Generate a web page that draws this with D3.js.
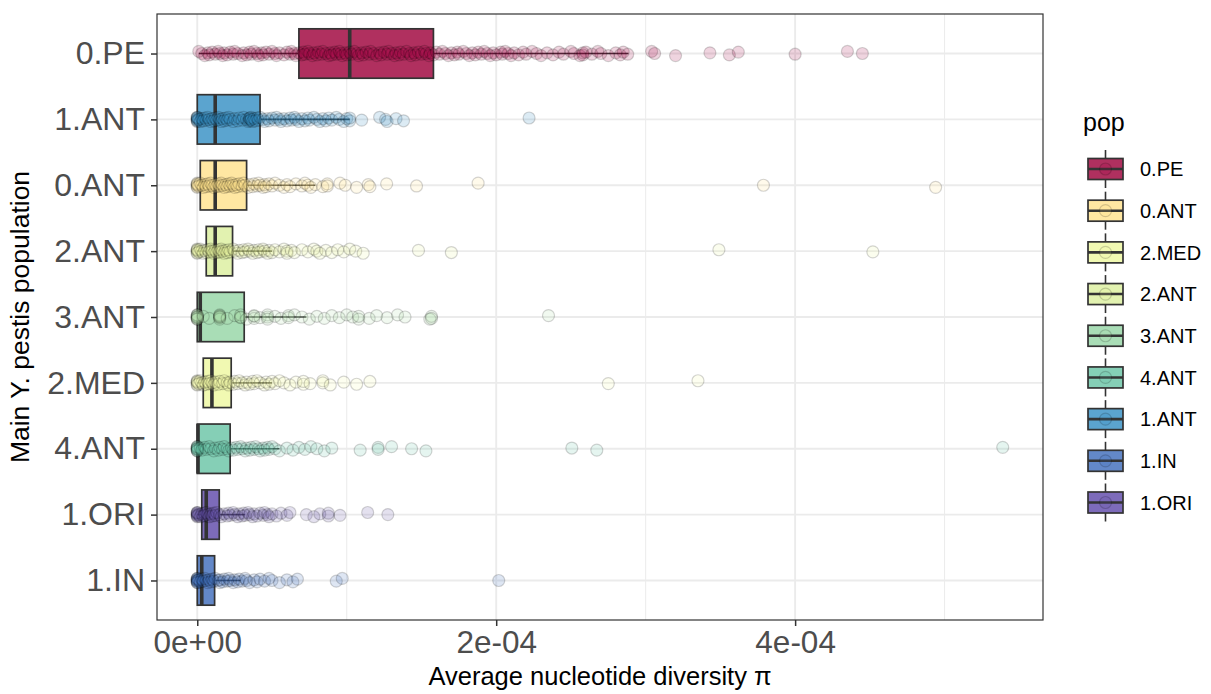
<!DOCTYPE html>
<html>
<head>
<meta charset="utf-8">
<script src="https://cdn.jsdelivr.net/npm/d3@7"></script>
<style>
  html, body { margin: 0; padding: 0; background: #fff; }
  svg { display: block; font-family: "Liberation Sans", Arial, Helvetica, sans-serif; }
</style>
</head>
<body>
<svg id="chart" width="1211" height="694"></svg>
<script>
// ---------------- DATA (values in units of 1e-4) ----------------
const unit = 1e-4;
const categories = ["0.PE", "1.ANT", "0.ANT", "2.ANT", "3.ANT", "2.MED", "4.ANT", "1.ORI", "1.IN"];
const legendOrder = ["0.PE", "0.ANT", "2.MED", "2.ANT", "3.ANT", "4.ANT", "1.ANT", "1.IN", "1.ORI"];

// box statistics, in the order of `categories`
const whiskerLow  = [0.01, 0.00, 0.00, 0.00, 0.00, 0.00, 0.00, 0.00, 0.00];
const q1          = [0.68, 0.00, 0.02, 0.06, 0.00, 0.04, 0.00, 0.03, 0.00];
const median      = [1.02, 0.12, 0.12, 0.12, 0.02, 0.098, 0.005, 0.06, 0.03];
const q3          = [1.58, 0.42, 0.33, 0.236, 0.314, 0.227, 0.22, 0.147, 0.116];
const whiskerHigh = [2.885, 1.02, 0.79, 0.50, 0.73, 0.50, 0.55, 0.32, 0.29];

// individual observations
const pts0PE = [0.01,0.03,0.05,0.07,0.08,0.1,0.12,0.14,0.15,0.17,0.18,0.2,0.22,0.24,0.25,0.27,0.3,0.31,0.33,0.35,0.36,0.38,0.4,0.41,0.43,0.44,0.46,0.48,0.5,0.52,0.53,0.55,0.58,0.6,0.62,0.63,0.65,0.66,0.68,0.7,0.71,0.72,0.74,0.75,0.77,0.78,0.8,0.81,0.83,0.84,0.86,0.88,0.89,0.9,0.92,0.93,0.95,0.96,0.97,0.99,1.0,1.02,1.03,1.05,1.07,1.08,1.1,1.11,1.13,1.15,1.16,1.18,1.2,1.22,1.23,1.25,1.27,1.28,1.3,1.32,1.33,1.35,1.36,1.38,1.4,1.42,1.43,1.45,1.46,1.48,1.5,1.52,1.53,1.55,1.56,1.58,1.6,1.62,1.64,1.66,1.68,1.7,1.72,1.74,1.75,1.78,1.8,1.82,1.84,1.86,1.88,1.9,1.92,1.94,1.96,1.98,2.0,2.03,2.04,2.06,2.08,2.1,2.12,2.15,2.18,2.2,2.24,2.27,2.3,2.34,2.38,2.42,2.45,2.5,2.52,2.56,2.58,2.58,2.6,2.64,2.68,2.7,2.75,2.8,2.83,2.85,2.88,3.04,3.06,3.2,3.43,3.56,3.62,4.0,4.35,4.45];
const pts1ANT = [0,0,0,0,0,0,0,0,0.01,0.02,0.03,0.04,0.05,0.06,0.07,0.08,0.09,0.1,0.11,0.12,0.13,0.14,0.15,0.16,0.17,0.18,0.19,0.2,0.21,0.22,0.24,0.25,0.27,0.28,0.3,0.31,0.33,0.34,0.35,0.35,0.35,0.36,0.36,0.36,0.37,0.38,0.39,0.4,0.41,0.42,0.44,0.45,0.47,0.48,0.5,0.52,0.53,0.55,0.56,0.58,0.6,0.62,0.63,0.65,0.66,0.68,0.7,0.72,0.74,0.75,0.78,0.8,0.82,0.84,0.86,0.88,0.9,0.93,0.95,0.98,1.0,1.02,1.02,1.1,1.22,1.26,1.27,1.33,1.38,2.22];
const pts0ANT = [0,0,0,0,0,0,0.01,0.02,0.03,0.04,0.05,0.06,0.07,0.08,0.09,0.1,0.11,0.12,0.13,0.14,0.15,0.16,0.17,0.18,0.19,0.2,0.21,0.22,0.23,0.24,0.25,0.26,0.27,0.28,0.3,0.31,0.32,0.34,0.35,0.37,0.38,0.4,0.41,0.42,0.44,0.45,0.46,0.48,0.5,0.52,0.55,0.58,0.6,0.62,0.66,0.7,0.72,0.74,0.76,0.79,0.84,0.87,0.87,0.955,0.99,1.066,1.144,1.155,1.267,1.467,1.879,3.788,4.94];
const pts2ANT = [0,0,0,0,0,0,0.01,0.02,0.03,0.04,0.05,0.06,0.07,0.08,0.09,0.1,0.11,0.12,0.13,0.14,0.15,0.16,0.17,0.18,0.19,0.2,0.21,0.22,0.24,0.25,0.27,0.28,0.3,0.31,0.32,0.34,0.35,0.37,0.38,0.4,0.41,0.42,0.44,0.45,0.47,0.48,0.5,0.52,0.55,0.58,0.6,0.6,0.63,0.65,0.7,0.74,0.78,0.8,0.82,0.86,0.9,0.94,0.98,1.02,1.06,1.11,1.48,1.70,3.49,4.52];
const pts3ANT = [0,0,0,0,0,0,0,0,0,0,0.04,0.08,0.15,0.15,0.15,0.15,0.15,0.15,0.2,0.25,0.29,0.29,0.29,0.33,0.38,0.38,0.38,0.42,0.47,0.47,0.47,0.52,0.56,0.61,0.61,0.65,0.7,0.75,0.8,0.85,0.9,0.95,1.0,1.04,1.08,1.08,1.15,1.2,1.27,1.34,1.39,1.556,1.567,1.567,2.35];
const pts2MED = [0,0,0,0,0,0,0.01,0.02,0.03,0.04,0.05,0.06,0.07,0.08,0.09,0.1,0.11,0.12,0.14,0.15,0.17,0.18,0.2,0.21,0.22,0.24,0.25,0.27,0.28,0.3,0.32,0.33,0.35,0.37,0.38,0.4,0.42,0.45,0.46,0.48,0.5,0.52,0.55,0.58,0.62,0.66,0.71,0.71,0.755,0.84,0.84,0.89,0.98,1.066,1.155,2.75,3.35];
const pts4ANT = [0,0,0,0,0,0,0,0,0,0,0.02,0.03,0.05,0.06,0.08,0.09,0.11,0.12,0.14,0.15,0.17,0.18,0.2,0.21,0.23,0.24,0.26,0.27,0.29,0.3,0.32,0.33,0.35,0.36,0.38,0.39,0.41,0.42,0.44,0.45,0.47,0.48,0.5,0.52,0.55,0.6,0.64,0.68,0.72,0.76,0.8,0.85,0.9,1.09,1.21,1.21,1.30,1.434,1.53,2.506,2.673,5.389];
const pts1ORI = [0,0,0,0,0,0,0,0,0.01,0.02,0.03,0.04,0.05,0.05,0.06,0.07,0.08,0.09,0.1,0.11,0.12,0.13,0.15,0.16,0.18,0.2,0.21,0.22,0.24,0.25,0.27,0.28,0.3,0.31,0.32,0.34,0.35,0.37,0.38,0.4,0.42,0.44,0.45,0.47,0.48,0.5,0.53,0.56,0.6,0.62,0.73,0.78,0.82,0.877,0.877,0.955,1.14,1.275];
const pts1IN  = [0,0,0,0,0,0,0,0,0,0,0.01,0.02,0.03,0.04,0.05,0.06,0.07,0.08,0.09,0.1,0.11,0.12,0.14,0.15,0.15,0.17,0.18,0.2,0.21,0.22,0.24,0.25,0.27,0.28,0.3,0.32,0.33,0.35,0.38,0.4,0.42,0.45,0.48,0.5,0.55,0.6,0.64,0.67,0.93,0.97,2.017];

const pointsByPop = {
  "0.PE": pts0PE, "1.ANT": pts1ANT, "0.ANT": pts0ANT, "2.ANT": pts2ANT, "3.ANT": pts3ANT,
  "2.MED": pts2MED, "4.ANT": pts4ANT, "1.ORI": pts1ORI, "1.IN": pts1IN
};

// colours
const boxFill = {
  "0.PE": "#B0305F", "1.ANT": "#5BA4CF", "0.ANT": "#FFE7A2", "2.ANT": "#E2F2B0", "3.ANT": "#A9DDB6",
  "2.MED": "#F1F9B2", "4.ANT": "#85CFB6", "1.ORI": "#7D6BBA", "1.IN": "#6388C8"
};
const pointFill = {
  "0.PE": "#9E0142", "1.ANT": "#3288BD", "0.ANT": "#FEE08B", "2.ANT": "#E6F598", "3.ANT": "#ABDDA4",
  "2.MED": "#F2F7A6", "4.ANT": "#66C2A5", "1.ORI": "#5E4FA2", "1.IN": "#3D68B5"
};

const xTicks = [0, 2, 4];
const xTickLabels = ["0e+00", "2e-04", "4e-04"];
const xMinor = [1, 3, 5];

// ---------------- LAYOUT ----------------
const svg = d3.select("#chart");
const panel = { left: 157, right: 1043, top: 14, bottom: 620 };

const allVals = Object.values(pointsByPop).flat().map(v => v * unit);
const [dmin, dmax] = d3.extent(allVals);
const pad = (dmax - dmin) * 0.05;
const x = d3.scaleLinear().domain([dmin - pad, dmax + pad]).range([panel.left, panel.right]);
const y = d3.scalePoint().domain(categories).range([panel.top, panel.bottom]).padding(0.6);
const bandH = y.step() * 0.75;
const ptAlpha = 0.17;

// grid
const grid = svg.append("g");
grid.selectAll("line.minor").data(xMinor).join("line")
  .attr("x1", d => x(d * unit)).attr("x2", d => x(d * unit))
  .attr("y1", panel.top).attr("y2", panel.bottom)
  .attr("stroke", "#EBEBEB").attr("stroke-width", 1);
grid.selectAll("line.majorx").data(xTicks).join("line")
  .attr("x1", d => x(d * unit)).attr("x2", d => x(d * unit))
  .attr("y1", panel.top).attr("y2", panel.bottom)
  .attr("stroke", "#EBEBEB").attr("stroke-width", 1.9);
grid.selectAll("line.majory").data(categories).join("line")
  .attr("x1", panel.left).attr("x2", panel.right)
  .attr("y1", d => y(d)).attr("y2", d => y(d))
  .attr("stroke", "#EBEBEB").attr("stroke-width", 1.9);

// boxes
const boxes = svg.append("g");
categories.forEach((c, i) => {
  const cy = y(c);
  const g = boxes.append("g");
  g.append("line").attr("x1", x(whiskerLow[i] * unit)).attr("x2", x(q1[i] * unit))
    .attr("y1", cy).attr("y2", cy).attr("stroke", "#333").attr("stroke-width", 1.6);
  g.append("line").attr("x1", x(q3[i] * unit)).attr("x2", x(whiskerHigh[i] * unit))
    .attr("y1", cy).attr("y2", cy).attr("stroke", "#333").attr("stroke-width", 1.6);
  g.append("rect").attr("x", x(q1[i] * unit)).attr("width", Math.max(0, x(q3[i] * unit) - x(q1[i] * unit)))
    .attr("y", cy - bandH / 2).attr("height", bandH)
    .attr("fill", boxFill[c]).attr("stroke", "#333").attr("stroke-width", 1.7);
  g.append("line").attr("x1", x(median[i] * unit)).attr("x2", x(median[i] * unit))
    .attr("y1", cy - bandH / 2).attr("y2", cy + bandH / 2)
    .attr("stroke", "#333").attr("stroke-width", 3.6);
});

// points
const pts = svg.append("g");
categories.forEach(c => {
  const cy = y(c);
  pts.append("g").selectAll("circle").data(pointsByPop[c]).join("circle")
    .attr("cx", d => x(d * unit))
    .attr("cy", (d, i) => cy + ((i * 3) % 7 - 3) * 0.7)
    .attr("r", 6)
    .attr("fill", pointFill[c]).attr("fill-opacity", ptAlpha)
    .attr("stroke", "#000").attr("stroke-opacity", ptAlpha).attr("stroke-width", 1.2);
});

// panel border
svg.append("rect").attr("x", panel.left).attr("y", panel.top)
  .attr("width", panel.right - panel.left).attr("height", panel.bottom - panel.top)
  .attr("fill", "none").attr("stroke", "#333").attr("stroke-width", 1.2);

// axes
const xAxis = svg.append("g").attr("transform", `translate(0,${panel.bottom})`)
  .call(d3.axisBottom(x).tickValues(xTicks.map(d => d * unit))
    .tickFormat((d, i) => xTickLabels[i]).tickSize(6).tickPadding(5));
xAxis.select(".domain").remove();
xAxis.selectAll(".tick line").attr("stroke", "#333").attr("stroke-width", 1.5);
xAxis.selectAll(".tick text").attr("fill", "#4D4D4D").attr("font-size", 31.5)
  .attr("font-family", "Liberation Sans, Arial, sans-serif");

const yAxis = svg.append("g").attr("transform", `translate(${panel.left},0)`)
  .call(d3.axisLeft(y).tickSize(6).tickPadding(6));
yAxis.select(".domain").remove();
yAxis.selectAll(".tick line").attr("stroke", "#333").attr("stroke-width", 1.5);
yAxis.selectAll(".tick text").attr("fill", "#4D4D4D").attr("font-size", 32)
  .attr("font-family", "Liberation Sans, Arial, sans-serif");

// axis titles
svg.append("text").attr("x", (panel.left + panel.right) / 2).attr("y", 685)
  .attr("text-anchor", "middle").attr("font-size", 25.5).attr("fill", "#000")
  .text("Average nucleotide diversity π");
svg.append("text").attr("transform", `translate(29,${(panel.top + panel.bottom) / 2}) rotate(-90)`)
  .attr("text-anchor", "middle").attr("font-size", 26.5).attr("fill", "#000")
  .text("Main Y. pestis population");

// legend
const leg = svg.append("g");
leg.append("text").attr("x", 1083).attr("y", 131).attr("font-size", 25).attr("fill", "#000").text("pop");
const legY = d3.scalePoint().domain(legendOrder).range([169, 502.5]);
legendOrder.forEach(c => {
  const cy = legY(c);
  const g = leg.append("g");
  g.append("line").attr("x1", 1105.5).attr("x2", 1105.5).attr("y1", cy - 19).attr("y2", cy + 19)
    .attr("stroke", "#333").attr("stroke-width", 1.6);
  g.append("rect").attr("x", 1088).attr("y", cy - 10.5).attr("width", 35).attr("height", 21)
    .attr("fill", boxFill[c]).attr("stroke", "#333").attr("stroke-width", 1.7);
  g.append("line").attr("x1", 1088).attr("x2", 1123).attr("y1", cy).attr("y2", cy)
    .attr("stroke", "#333").attr("stroke-width", 2.6);
  g.append("circle").attr("cx", 1105.5).attr("cy", cy).attr("r", 6)
    .attr("fill", pointFill[c]).attr("fill-opacity", ptAlpha)
    .attr("stroke", "#000").attr("stroke-opacity", ptAlpha).attr("stroke-width", 1.2);
  g.append("text").attr("x", 1140).attr("y", cy + 7.3).attr("font-size", 20).attr("fill", "#000").text(c);
});
</script>
</body>
</html>
